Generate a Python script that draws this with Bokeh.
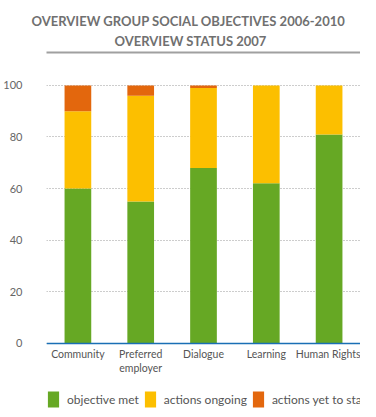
from bokeh.plotting import figure
from bokeh.models import (FactorRange, Range1d, FixedTicker, Legend, Title,
                          LinearAxis)
from bokeh.embed import file_html
from bokeh.resources import INLINE

categories = ["Community", "Preferred\nemployer", "Dialogue", "Learning", "Human Rights"]
objective_met = [60, 55, 68, 62, 81]
actions_ongoing = [30, 41, 31, 38, 19]
actions_yet_to_start = [10, 4, 1, 0, 0]
series_names = ["objective met", "actions ongoing", "actions yet to start"]
series_keys = ["met", "ongoing", "yet"]
y_ticks = [0, 20, 40, 60, 80, 100]
title_lines = ["OVERVIEW GROUP SOCIAL OBJECTIVES 2006-2010", "OVERVIEW STATUS 2007"]

colors = ["#66A824", "#FCBF00", "#E3670D"]
FONT = "Lato"

data = dict(cat=categories, met=objective_met, ongoing=actions_ongoing,
            yet=actions_yet_to_start)

# frame spans from the title rule down to the bottom of the figure;
# the value axis shows 0..100, the extra room holds labels and legend
p = figure(width=360, height=409, x_range=FactorRange(*categories),
           y_range=Range1d(-25.8, 112.8), output_backend="svg",
           toolbar_location=None, min_border_left=43, min_border_right=0,
           min_border_top=52, min_border_bottom=0)
p.outline_line_color = None

rs = p.vbar_stack(series_keys, x="cat", width=0.425, color=colors, source=data,
                  line_color=None)

p.xgrid.grid_line_color = None
p.ygrid.grid_line_color = "#9a9a9a"
p.ygrid.grid_line_dash = "1 2"
p.ygrid.ticker = FixedTicker(ticks=y_ticks)

p.yaxis.ticker = FixedTicker(ticks=y_ticks)
p.yaxis.axis_line_color = None
p.yaxis.major_tick_line_color = None
p.yaxis.minor_tick_line_color = None
p.yaxis.major_tick_out = 0
p.yaxis.major_tick_in = 0
p.yaxis.major_label_standoff = 24
p.yaxis.major_label_text_font = FONT
p.yaxis.major_label_text_font_size = "11px"
p.yaxis.major_label_text_color = "#666666"

p.xaxis.fixed_location = 0
p.xaxis.axis_line_color = "#1a6fb5"
p.xaxis.axis_line_width = 1.5
p.xaxis.major_tick_line_color = None
p.xaxis.minor_tick_line_color = None
p.xaxis.major_tick_out = 0
p.xaxis.major_tick_in = 0
p.xaxis.major_label_standoff = 5
p.xaxis.major_label_text_font = FONT
p.xaxis.major_label_text_font_size = "10.5px"
p.xaxis.major_label_text_color = "#555555"

# gray rule under the title: a bare axis line on top of the frame
rule = LinearAxis(ticker=FixedTicker(ticks=[]), axis_line_color="#a0a0a0",
                  axis_line_width=2, major_tick_line_color=None,
                  minor_tick_line_color=None)
p.add_layout(rule, "above")

for txt, so, off in zip(reversed(title_lines), [8, -5], [68, -15]):
    p.add_layout(Title(text=txt, align="left", offset=off, text_font=FONT,
                       text_font_style="bold", text_font_size="13px",
                       text_color="#707070", standoff=so), "above")

legend = Legend(items=[(n, [r]) for n, r in zip(series_names, rs)],
                location=(0, 0), orientation="horizontal",
                glyph_width=14, glyph_height=20, label_standoff=7, spacing=4,
                padding=0, margin=0, border_line_color=None,
                background_fill_alpha=0, label_text_font=FONT,
                label_text_font_size="12px", label_text_color="#555555",
                label_text_baseline="bottom")
p.add_layout(legend)

open("out.html", "w").write(file_html(p, INLINE))
